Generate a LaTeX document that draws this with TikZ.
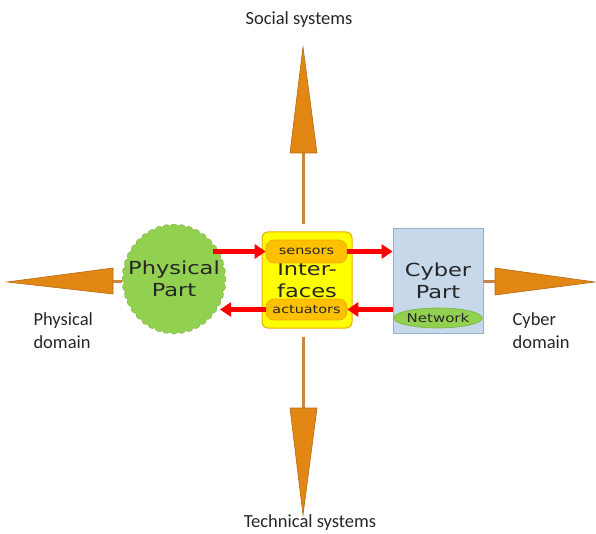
\documentclass[tikz,border=0pt]{standalone}
\usepackage{fontspec}
\setmainfont{Carlito}
\newfontfamily\boxfont[FakeStretch=1.25]{DejaVu Sans}
\usetikzlibrary{arrows.meta,shapes.symbols,shapes.geometric}
\definecolor{O}{RGB}{227, 135, 20}
\definecolor{OD}{RGB}{180, 105, 20}
\definecolor{S}{RGB}{200, 135, 60}
\definecolor{G}{RGB}{146, 208, 80}
\definecolor{GD}{RGB}{120, 180, 60}
\definecolor{C}{RGB}{198, 216, 234}
\definecolor{CD}{RGB}{150, 175, 205}
\definecolor{Y}{RGB}{255, 255, 0}
\definecolor{YD}{RGB}{240, 170, 0}
\definecolor{P}{RGB}{255, 192, 0}
\definecolor{R}{RGB}{255, 0, 0}

\begin{document}
\begin{tikzpicture}[x=1pt, y=-1pt,
	spike/.style={fill=O, draw=OD, line width=0.6pt, line join=miter},
	shaft/.style={draw=S, line width=3pt},
	flow/.style={draw=R, line width=4.5pt, -{Triangle[length=11pt,width=14pt]}},
	bigtext/.style={align=center, font=\boxfont\fontsize{18}{22}\selectfont, text=black!85},
	pill/.style={fill=P, draw=YD, line width=0.6pt, rounded corners=8pt, minimum width=81pt, inner sep=0pt, font=\boxfont\fontsize{11.5}{12}\selectfont, text=black!85},
	caption/.style={font=\fontsize{18.5}{23}\selectfont, text=black!85}]
	\useasboundingbox (0,0) rectangle (596,534);
	\node[cloud, cloud puffs=40, cloud puff arc=120, cloud ignores aspect, fill=G, draw=GD, minimum width=104pt, minimum height=110pt, inner sep=0pt] (phys) at (174,279) {};
	\node[bigtext] (physlabel) at (174,279) {Physical\\Part};
	\node[rectangle, rounded corners=6pt, fill=Y, draw=YD, line width=1pt, minimum width=90pt, minimum height=96pt, bigtext] (inter) at (307,280) {Inter-\\faces};
	\node[pill, minimum height=23pt] (sens) at (306.5,251.5) {sensors};
	\node[pill, minimum height=21pt] (act) at (306.5,309.5) {actuators};
	\node[rectangle, fill=C, draw=CD, line width=0.8pt, minimum width=90pt, minimum height=105pt] (cyber) at (438,280.5) {};
	\node[bigtext] (cyberlabel) at (438,281) {Cyber\\Part};
	\node[ellipse, fill=G, draw=GD, line width=0.6pt, minimum width=73pt, minimum height=20pt, inner sep=0pt, font=\boxfont\fontsize{12}{12}\selectfont, text=black!85] (net) at (438,318) {Network};

	\coordinate (upbase) at (303,153);
	\coordinate (downbase) at (303,408);
	\coordinate (leftbase) at (113,281);
	\coordinate (rightbase) at (495,281);
	\draw[shaft, shorten <=7pt] (inter.north -| upbase) -- (upbase);
	\draw[shaft, shorten <=8pt] (inter.south -| downbase) -- (downbase);
	\draw[shaft] (phys.west |- leftbase) -- (leftbase);
	\draw[shaft] (cyber.east |- rightbase) -- (rightbase);
	\filldraw[spike] (303,47) -- (317,153) -- (290,153) -- cycle;
	\filldraw[spike] (303,515) -- (317,408) -- (290,408) -- cycle;
	\filldraw[spike] (7,282) -- (113,268) -- (113,294) -- cycle;
	\filldraw[spike] (595,282) -- (495,268) -- (495,295) -- cycle;

	\draw[flow, shorten <=39pt] (phys.center |- sens.west) -- (sens.west);
	\draw[flow] (sens.east) -- (sens.east -| cyber.west);
	\draw[flow] (cyber.west |- act) -- (act.east);
	\draw[flow, shorten >=46pt] (act.west) -- (act.west -| phys.center);

	\node[caption] (social) at (299,20) {Social systems};
	\node[caption] (tech) at (310,523) {Technical systems};
	\node[caption, align=left, anchor=north west] (physdom) at (30,309) {Physical\\domain};
	\node[caption, align=left, anchor=north west] (cybdom) at (509,309) {Cyber\\domain};
\end{tikzpicture}
\end{document}
